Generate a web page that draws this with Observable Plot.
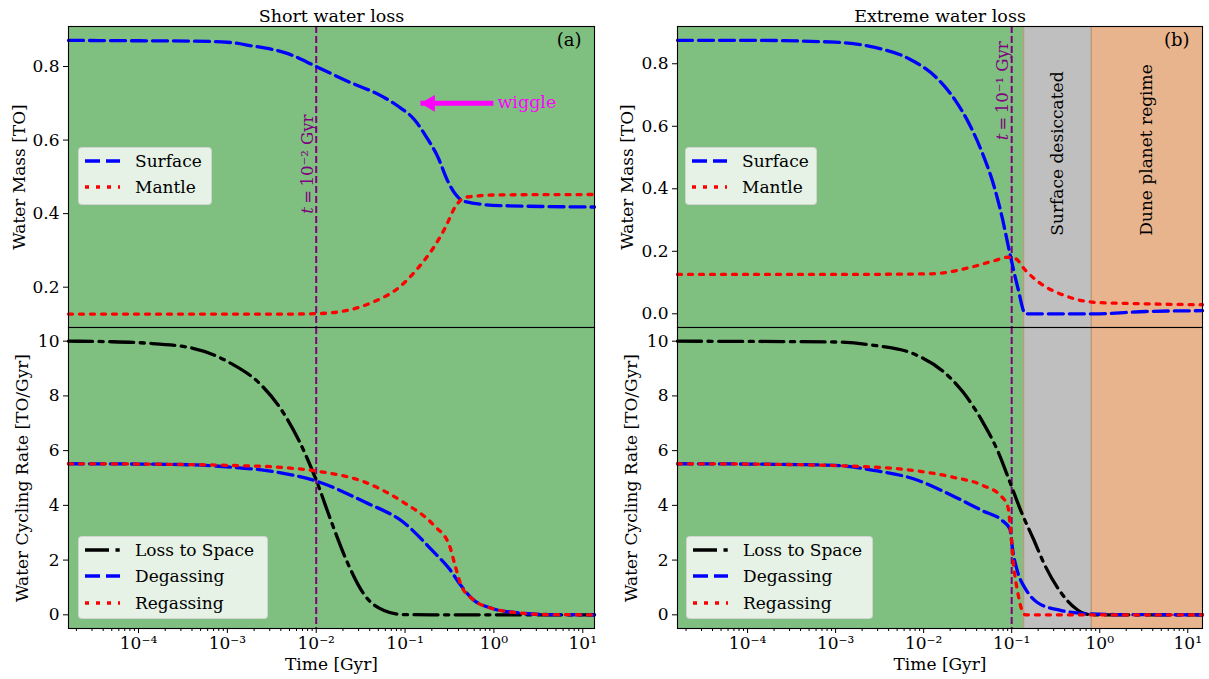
<!DOCTYPE html>
<html>
<head>
<meta charset="utf-8">
<script src="https://cdn.jsdelivr.net/npm/d3@7"></script>
<script src="https://cdn.jsdelivr.net/npm/@observablehq/plot@0.6"></script>
<style>
  body { margin: 0; background: #ffffff; }
  #chart { position: relative; width: 1209px; height: 679px; overflow: hidden; font-family: "DejaVu Serif", serif; background: #fff; }
  #chart svg { position: absolute; overflow: visible; }
  .legend { position: absolute; box-sizing: border-box; background: rgba(255,255,255,0.8); border: 1px solid rgba(204,204,204,0.8); border-radius: 4px; font-size: 17px; color: #000; }
  .legend .row { position: absolute; left: 0; height: 26px; width: 100%; }
  .legend .row svg { position: absolute; top: 8px; }
  .legend .row span { position: absolute; top: 2px; white-space: nowrap; line-height: 22px; }
</style>
</head>
<body>
<div id="chart"></div>
<script>
// ---------------- Data ----------------
// (a) Short water loss — Water Mass [TO]
const aSurfaceTime = [1.63e-5, 1e-4, 4e-4, 1e-3, 1.8e-3, 4.8e-3, 0.01, 0.0215, 0.058, 0.086, 0.129, 0.174, 0.234, 0.30, 0.366, 0.468, 1.15, 13.55];
const aSurface     = [0.871, 0.870, 0.869, 0.866, 0.857, 0.835, 0.800, 0.762, 0.716, 0.690, 0.654, 0.608, 0.554, 0.490, 0.454, 0.433, 0.422, 0.418];
const aMantleTime  = [1.63e-5, 1e-3, 0.005, 0.01, 0.0215, 0.043, 0.086, 0.142, 0.211, 0.285, 0.366, 0.493, 1.15, 13.55];
const aMantle      = [0.127, 0.127, 0.127, 0.128, 0.136, 0.159, 0.200, 0.254, 0.309, 0.363, 0.418, 0.445, 0.451, 0.452];
// (a) Water Cycling Rate [TO/Gyr]
const aLossTime  = [1.63e-5, 5e-5, 1.2e-4, 4e-4, 1.08e-3, 2.4e-3, 3.95e-3, 6.5e-3, 0.0102, 0.0144, 0.0215, 0.0352, 0.058, 0.095, 0.2, 13.55];
const aLoss      = [10.0, 9.98, 9.93, 9.75, 9.2, 8.4, 7.55, 6.32, 4.85, 3.51, 2.05, 0.71, 0.16, 0.01, 0, 0];
const aDegasTime = [1.63e-5, 1e-4, 4e-4, 1.08e-3, 3.5e-3, 0.0102, 0.0352, 0.095, 0.211, 0.315, 0.425, 0.573, 0.94, 1.89, 4, 13.55];
const aDegas     = [5.52, 5.51, 5.48, 5.40, 5.22, 4.88, 4.12, 3.39, 2.29, 1.68, 1.07, 0.58, 0.24, 0.07, 0.01, 0];
const aRegasTime = [1.63e-5, 1e-4, 1.08e-3, 3.5e-3, 0.0102, 0.0352, 0.095, 0.211, 0.315, 0.366, 0.425, 0.573, 0.94, 1.89, 4, 13.55];
const aRegas     = [5.52, 5.51, 5.46, 5.40, 5.25, 4.85, 4.12, 3.27, 2.54, 1.80, 1.10, 0.58, 0.24, 0.07, 0.01, 0];

// (b) Extreme water loss — Water Mass [TO]
const bSurfaceTime = [1.6e-5, 1e-4, 9.8e-4, 2.7e-3, 6.8e-3, 0.0138, 0.0229, 0.0344, 0.0468, 0.0635, 0.0778, 0.0955, 0.117, 0.1435, 0.853, 3.37, 14.7];
const bSurface     = [0.875, 0.875, 0.869, 0.853, 0.816, 0.757, 0.683, 0.597, 0.512, 0.405, 0.309, 0.192, 0.085, 0.0, 0.0, 0.0074, 0.01];
const bMantleTime  = [1.6e-5, 1e-3, 0.0124, 0.0344, 0.0635, 0.0906, 0.111, 0.1435, 0.215, 0.398, 0.853, 3.37, 14.7];
const bMantle      = [0.126, 0.126, 0.128, 0.149, 0.170, 0.181, 0.176, 0.139, 0.096, 0.0586, 0.037, 0.032, 0.029];
// (b) Water Cycling Rate [TO/Gyr]
const bLossTime  = [1.6e-5, 9.8e-4, 2.7e-3, 7.5e-3, 0.0169, 0.028, 0.0468, 0.0703, 0.0955, 0.129, 0.176, 0.239, 0.359, 0.538, 0.66, 0.853, 14.7];
const bLoss      = [10.0, 9.97, 9.85, 9.55, 8.88, 8.14, 7.05, 5.95, 4.85, 3.75, 2.78, 1.80, 0.83, 0.22, 0.05, 0, 0];
const bDegasTime = [1.6e-5, 1e-4, 9.8e-4, 2.7e-3, 7.5e-3, 0.0207, 0.0468, 0.0778, 0.095, 0.1035, 0.117, 0.1435, 0.194, 0.359, 0.733, 1.5, 14.7];
const bDegas     = [5.52, 5.51, 5.46, 5.28, 4.98, 4.37, 3.8, 3.45, 3.15, 2.29, 1.56, 0.95, 0.46, 0.16, 0.04, 0.01, 0];
const bRegasTime = [1.6e-5, 1e-4, 2.7e-3, 7.5e-3, 0.0207, 0.0468, 0.0778, 0.0906, 0.0977, 0.1054, 0.117, 0.129, 0.1435, 14.7];
const bRegas     = [5.52, 5.51, 5.40, 5.28, 5.04, 4.73, 4.30, 3.94, 3.02, 1.80, 0.83, 0.22, 0.0, 0];

// Regimes in panel (b)
const regionStart = [1.6e-5, 0.136, 0.8];
const regionEnd   = [0.136, 0.8, 14.7];
const regionLabels    = ["Surface desiccated", "Dune planet regime"];
const regionLabelTime = [0.33, 3.43];
const regionLabelY    = [0.25, 0.25];

// Marked times
const markTime  = [0.01, 0.1];
const markLabel = ["t\u2009=\u200910⁻² Gyr", "t\u2009=\u200910⁻¹ Gyr"];
const markLabelTime = [0.0081, 0.079];
const markLabelY    = [0.4, 0.555];

// Wiggle annotation (panel a)
const wiggleTail = [0.986, 0.70];
const wiggleTip  = [0.149, 0.70];

// Axes
const xTicks = [1e-4, 1e-3, 1e-2, 1e-1, 1, 10];
const xTickLabels = ["10⁻⁴", "10⁻³", "10⁻²", "10⁻¹", "10⁰", "10¹"];
const massTicksA = [0.2, 0.4, 0.6, 0.8];
const massTicksB = [0.0, 0.2, 0.4, 0.6, 0.8];
const rateTicks  = [0, 2, 4, 6, 8, 10];

const titles = ["Short water loss", "Extreme water loss"];
const panelTags = ["(a)", "(b)"];
const massSeries = ["Surface", "Mantle"];
const rateSeries = ["Loss to Space", "Degassing", "Regassing"];

// ---------------- Styles ----------------
const LW = 3.3;
const seriesStyle = {
  "Surface":       {stroke: "#0000ff", dash: "15,6"},
  "Mantle":        {stroke: "#ff0000", dash: "4,7"},
  "Loss to Space": {stroke: "#000000", dash: "24,6.5,4.2,6.5"},
  "Degassing":     {stroke: "#0000ff", dash: "15,6"},
  "Regassing":     {stroke: "#ff0000", dash: "4,7"}
};
const regionFill = ["#7fbf7f", "#bfbfbf", "#e8b48e"];
const FONT = "DejaVu Serif";
const FS = 17;

const rows = (t, v) => t.map((x, i) => ({t: x, v: v[i]}));
const xLabelMap = new Map(xTicks.map((d, i) => [d, xTickLabels[i]]));

function minorTicks(domain) {
  const out = [];
  for (let k = -6; k <= 2; k++) for (let m = 2; m <= 9; m++) {
    const v = m * Math.pow(10, k);
    if (v >= domain[0] && v <= domain[1]) out.push(v);
  }
  return out;
}

function seriesLine(name, t, v) {
  const s = seriesStyle[name];
  return Plot.line(rows(t, v), {x: "t", y: "v", stroke: s.stroke, strokeWidth: LW, strokeDasharray: s.dash, curve: "monotone-x"});
}

function background(which) {
  if (which === 0) return [Plot.frame({fill: regionFill[0], stroke: null})];
  return [
    ...regionStart.map((s, i) => Plot.rect([{a: s, b: regionEnd[i]}], {x1: "a", x2: "b", fill: regionFill[i]})),
    Plot.ruleX(regionStart.slice(1), {stroke: "#b89c80", strokeWidth: 1.6})
  ];
}

function makePanel({which, top, xDomain, yDomain, yTicks, yFormat, yLabel, labelOffset, series, extra}) {
  const isTop = top;
  const marks = [
    ...background(which),
    Plot.ruleX([markTime[which]], {stroke: "#800080", strokeWidth: 2, strokeDasharray: "7,3"}),
    ...extra,
    ...series,
    Plot.frame({stroke: "#000", strokeWidth: 1.1}),
    Plot.axisY({ticks: yTicks, tickFormat: yFormat, tickSize: 5, tickPadding: 4, label: yLabel,
      labelAnchor: "center", labelArrow: "none", labelOffset: labelOffset, fontSize: FS})
  ];
  if (!isTop) {
    marks.push(
      Plot.axisX({ticks: minorTicks(xDomain), tickSize: 3, tickFormat: () => "", label: null}),
      Plot.axisX({ticks: xTicks, tickFormat: d => xLabelMap.get(d), tickSize: 5, tickPadding: 3,
        label: "Time [Gyr]", labelAnchor: "center", labelArrow: "none", labelOffset: 41, fontSize: FS})
    );
  } else {
    marks.push(
      Plot.text([titles[which]], {frameAnchor: "top", dy: -5, lineAnchor: "bottom", fontSize: FS + 0.5}),
      Plot.text([panelTags[which]], {frameAnchor: "top-right", dx: -13, dy: 7, fontSize: FS + 1})
    );
  }
  const svg = Plot.plot({
    width: 600,
    height: isTop ? 328 : 353,
    marginLeft: which === 0 ? 68 : 69,
    marginRight: 6,
    marginTop: isTop ? 26 : 1,
    marginBottom: isTop ? 1 : 51,
    style: {fontFamily: FONT, fontSize: FS + "px", background: "transparent", color: "#000"},
    x: {type: "log", domain: xDomain, axis: null},
    y: {domain: yDomain, axis: null},
    marks
  });
  // italic "t" in the marked time labels
  d3.select(svg).selectAll("text").filter(function() { return this.textContent.startsWith("t\u2009="); })
    .each(function() {
      const s = this.textContent;
      const el = d3.select(this);
      el.text(null);
      el.append("tspan").attr("font-style", "italic").text("t");
      el.append("tspan").text(s.slice(1));
    });
  return svg;
}

function markLabelMark(which) {
  return Plot.text([{t: markLabelTime[which], v: markLabelY[which], s: markLabel[which]}],
    {x: "t", y: "v", text: "s", rotate: -90, textAnchor: "start", lineAnchor: "middle", fill: "#800080", fontSize: 16.5});
}

const chart = document.getElementById("chart");
function place(el, left, top) { el.style.left = left + "px"; el.style.top = top + "px"; chart.appendChild(el); }

const xDomA = [1.63e-5, 13.55];
const xDomB = [1.6e-5, 14.7];

// Panel (a) top
place(makePanel({
  which: 0, top: true, xDomain: xDomA, yDomain: [0.0904, 0.9088], yTicks: massTicksA, yFormat: d3.format(".1f"),
  yLabel: "Water Mass [TO]", labelOffset: 56,
  series: [seriesLine("Surface", aSurfaceTime, aSurface), seriesLine("Mantle", aMantleTime, aMantle)],
  extra: [
    markLabelMark(0),
    Plot.link([{x1: wiggleTail[0], x2: wiggleTip[0], y: wiggleTail[1]}], {x1: "x1", x2: "x2", y1: "y", y2: "y", stroke: "#ff00ff", strokeWidth: 5}),
    Plot.dot([{t: wiggleTip[0], v: wiggleTip[1]}], {x: "t", y: "v", symbol: "triangle", r: 6.2, rotate: -90, fill: "#ff00ff", stroke: null, dx: 9.6}),
    Plot.text([{t: wiggleTail[0], v: wiggleTail[1], s: "wiggle"}], {x: "t", y: "v", text: "s", textAnchor: "start", dx: 4, dy: -1, fill: "#ff00ff", fontSize: FS + 0.5})
  ]
}), 0, 0);

// Panel (a) bottom
place(makePanel({
  which: 0, top: false, xDomain: xDomA, yDomain: [-0.5, 10.5], yTicks: rateTicks, yFormat: d3.format("d"),
  yLabel: "Water Cycling Rate [TO/Gyr]", labelOffset: 53,
  series: [seriesLine("Loss to Space", aLossTime, aLoss), seriesLine("Degassing", aDegasTime, aDegas), seriesLine("Regassing", aRegasTime, aRegas)],
  extra: []
}), 0, 326);

// Panel (b) top
place(makePanel({
  which: 1, top: true, xDomain: xDomB, yDomain: [-0.0438, 0.9192], yTicks: massTicksB, yFormat: d3.format(".1f"),
  yLabel: "Water Mass [TO]", labelOffset: 57,
  series: [seriesLine("Surface", bSurfaceTime, bSurface), seriesLine("Mantle", bMantleTime, bMantle)],
  extra: [
    markLabelMark(1),
    Plot.text(regionLabels.map((s, i) => ({s, t: regionLabelTime[i], v: regionLabelY[i]})),
      {x: "t", y: "v", text: "s", rotate: -90, textAnchor: "start", lineAnchor: "middle", fill: "#000", fontSize: FS})
  ]
}), 608, 0);

// Panel (b) bottom
place(makePanel({
  which: 1, top: false, xDomain: xDomB, yDomain: [-0.5, 10.5], yTicks: rateTicks, yFormat: d3.format("d"),
  yLabel: "Water Cycling Rate [TO/Gyr]", labelOffset: 53,
  series: [seriesLine("Loss to Space", bLossTime, bLoss), seriesLine("Degassing", bDegasTime, bDegas), seriesLine("Regassing", bRegasTime, bRegas)],
  extra: []
}), 608, 326);

// ---------------- Legends ----------------
function legend(names, left, top, width, height) {
  const box = document.createElement("div");
  box.className = "legend";
  box.style.left = left + "px"; box.style.top = top + "px";
  box.style.width = width + "px"; box.style.height = height + "px";
  names.forEach((name, i) => {
    const s = seriesStyle[name];
    const row = document.createElement("div");
    row.className = "row";
    row.style.top = (0 + 26.3 * i) + "px";
    const svg = d3.create("svg").attr("width", 36).attr("height", 10).style("left", "6px");
    svg.append("line").attr("x1", 0).attr("x2", 35).attr("y1", 5).attr("y2", 5)
      .attr("stroke", s.stroke).attr("stroke-width", LW).attr("stroke-dasharray", s.dash);
    row.appendChild(svg.node());
    const label = document.createElement("span");
    label.style.left = "56px";
    label.textContent = name;
    row.appendChild(label);
    box.appendChild(row);
  });
  chart.appendChild(box);
}
legend(massSeries, 78, 147, 134, 58);
legend(rateSeries, 78, 536, 190, 83);
legend(massSeries, 685, 147, 132, 58);
legend(rateSeries, 686, 536, 187, 83);
</script>
</body>
</html>
